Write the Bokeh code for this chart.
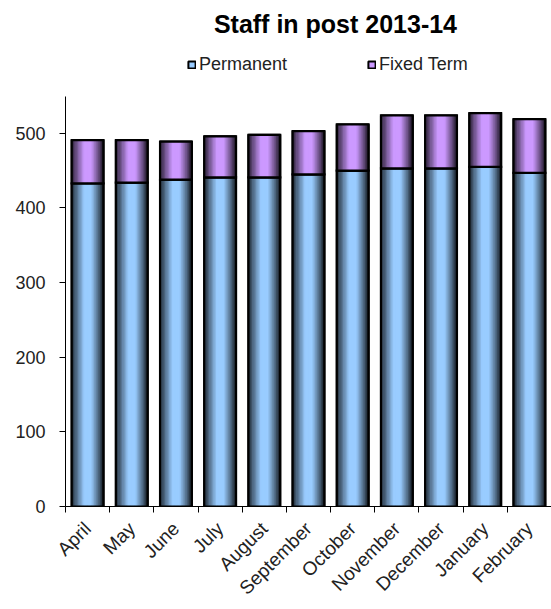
import numpy as np
from bokeh.plotting import figure
from bokeh.models import (ColumnDataSource, Range1d, FixedTicker, Label, Legend, LegendItem)
from bokeh.embed import file_html
from bokeh.resources import INLINE

# Monthly headcount, April 2013 - February 2014
months = ["April", "May", "June", "July", "August", "September",
          "October", "November", "December", "January", "February"]
permanent = [433, 434, 438, 441, 441, 445, 450, 453, 453, 455, 447]
fixed_term = [58, 57, 51, 55, 57, 58, 62, 71, 71, 72, 72]
y_ticks = [0, 100, 200, 300, 400, 500]

FONT = "Liberation Sans"
BAR_W = 0.72
N_STRIPS = 24
PERM_RGB = (153, 204, 255)
FIXED_RGB = (204, 153, 255)

perm = np.array(permanent, dtype=float)
fixed = np.array(fixed_term, dtype=float)
centers = np.arange(len(months)) + 0.5

p = figure(width=551, height=609, output_backend="svg", toolbar_location=None,
           x_range=Range1d(0, len(months)), y_range=Range1d(0, 678),
           min_border_left=65, min_border_right=0, min_border_top=0,
           min_border_bottom=103, background_fill_color="white",
           border_fill_color="white")
p.outline_line_color = None
p.xgrid.grid_line_color = None
p.ygrid.grid_line_color = None


def shade(rgb, f):
    return "#%02x%02x%02x" % tuple(int(round(c * f)) for c in rgb)


# horizontal light profile across a bar (dark edges, bright middle)
prof_t = [0.0, 0.15, 0.4, 0.62, 0.85, 1.0]
prof_f = [0.18, 0.5, 1.0, 1.0, 0.5, 0.1]


def gradient_source(bottom, top, rgb):
    xs, ws, bs, ts, cs = [], [], [], [], []
    sw = BAR_W / N_STRIPS
    for k in range(N_STRIPS):
        t = (k + 0.5) / N_STRIPS
        col = shade(rgb, float(np.interp(t, prof_t, prof_f)))
        xs.extend(centers - BAR_W / 2 + (k + 0.5) * sw)
        ws.extend([sw * 1.35] * len(centers))
        bs.extend(bottom)
        ts.extend(top)
        cs.extend([col] * len(centers))
    return ColumnDataSource(dict(x=xs, w=ws, bottom=bs, top=ts, color=cs))


segments = [
    ("Permanent", np.zeros_like(perm), perm, PERM_RGB),
    ("Fixed Term", perm, perm + fixed, FIXED_RGB),
]

legend_renderers = []
for name, bottom, top, rgb in segments:
    src = ColumnDataSource(dict(x=centers, bottom=bottom, top=top))
    base = p.vbar(x="x", width=BAR_W, bottom="bottom", top="top", source=src,
                  fill_color=shade(rgb, 1.0), line_color="black", line_width=2)
    p.vbar(x="x", width="w", bottom="bottom", top="top",
           source=gradient_source(bottom, top, rgb),
           fill_color="color", line_color=None)
    p.vbar(x="x", width=BAR_W, bottom="bottom", top="top", source=src,
           fill_color=None, line_color="black", line_width=2.2,
           line_join="miter")
    legend_renderers.append((name, base))

# y axis
yax = p.yaxis[0]
yax.ticker = FixedTicker(ticks=y_ticks, minor_ticks=[])
yax.bounds = (0, 550)
yax.axis_line_color = "black"
yax.axis_line_width = 1
yax.major_tick_in = 0
yax.major_tick_out = 6
yax.major_label_standoff = 14
yax.major_label_text_font = FONT
yax.major_label_text_font_size = "18px"
yax.major_label_text_color = "#222222"

# x axis: labels at bar centres, tick marks at category boundaries
xax = p.xaxis[0]
xax.ticker = FixedTicker(ticks=list(centers),
                         minor_ticks=list(range(len(months) + 1)))
xax.major_label_overrides = {float(c): m for c, m in zip(centers, months)}
xax.major_label_orientation = np.pi / 4
xax.major_tick_line_color = None
xax.major_tick_in = 0
xax.major_tick_out = 6
xax.minor_tick_in = 0
xax.minor_tick_out = 6
xax.minor_tick_line_color = "black"
xax.axis_line_color = "black"
xax.major_label_standoff = 13
xax.major_label_text_font = FONT
xax.major_label_text_font_size = "19px"
xax.major_label_text_color = "#222222"

# title
p.add_layout(Label(x=6.11, y=647, text="Staff in post 2013-14",
                   text_font=FONT, text_font_size="25px",
                   text_font_style="bold", text_align="center",
                   text_baseline="middle", text_color="black"))

# legend, one entry per box so each can be placed on its own
for (name, r), loc in zip(legend_renderers, [(122, 431), (302, 431)]):
    lg = Legend(items=[LegendItem(label=name, renderers=[r])],
                location=loc, orientation="horizontal",
                glyph_width=9, glyph_height=9, label_standoff=3,
                padding=0, margin=0, border_line_color=None,
                background_fill_alpha=0, label_text_font=FONT,
                label_text_font_size="18px", label_text_color="#222222")
    p.add_layout(lg, "center")

open("out.html", "w").write(file_html(p, INLINE))
